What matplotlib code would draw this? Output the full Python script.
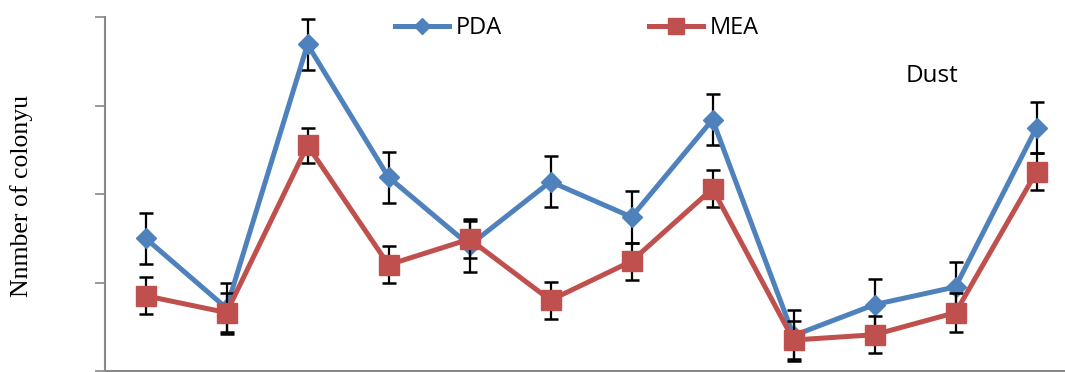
import matplotlib
matplotlib.use("Agg")
import matplotlib.pyplot as plt
import numpy as np

# samples along the x axis (no labels shown in the original)
samples = list(range(1, 13))

pda = [1.50, 0.71, 3.69, 2.19, 1.42, 2.14, 1.74, 2.84, 0.40, 0.75, 0.95, 2.75]
pda_err = [0.29, 0.29, 0.29, 0.29, 0.30, 0.29, 0.29, 0.29, 0.29, 0.29, 0.28, 0.29]

mea = [0.85, 0.66, 2.55, 1.20, 1.49, 0.80, 1.24, 2.06, 0.35, 0.41, 0.66, 2.25]
mea_err = [0.21, 0.22, 0.20, 0.21, 0.21, 0.21, 0.21, 0.21, 0.22, 0.21, 0.22, 0.21]

blue = "#4F81BD"
red = "#C0504D"

W, H = 1065, 372
fig = plt.figure(figsize=(W / 100, H / 100), dpi=100)
ax = fig.add_axes([105 / W, 1 / H, 81 * 12 / W, 354 / H])

x = np.arange(len(samples))

ax.errorbar(x, pda, yerr=pda_err, fmt="none", ecolor="black",
            elinewidth=1.6, capsize=5, capthick=1.8, zorder=2)
ax.plot(x, pda, color=blue, lw=3.6, marker="D", ms=10, label="PDA", zorder=3)
ax.errorbar(x, mea, yerr=mea_err, fmt="none", ecolor="black",
            elinewidth=1.6, capsize=5, capthick=1.8, zorder=4)
ax.plot(x, mea, color=red, lw=3.6, marker="s", ms=14, label="MEA", zorder=5)

ax.set_xlim(-0.5, len(samples) - 0.5)
ax.set_ylim(0, 4)
ax.set_yticks([0, 1, 2, 3, 4])
ax.set_yticklabels([])
ax.set_xticks([])
ax.tick_params(axis="y", direction="out", length=7, width=1.2, color="#888888")
for s in ["top", "right"]:
    ax.spines[s].set_visible(False)
for s in ["left", "bottom"]:
    ax.spines[s].set_color("#888888")
    ax.spines[s].set_linewidth(1.5)

fig.legend(loc="center", bbox_to_anchor=(577 / W, 1 - 28 / H), ncol=2,
           frameon=False, prop={"family": "Open Sans", "size": 17},
           handlelength=2.3, handletextpad=0.3, columnspacing=6.2,
           markerscale=0.85)

fig.text(932 / W, 1 - 76 / H, "Dust", ha="center", va="center",
         family="Open Sans", fontsize=17.5)
fig.text(22 / W, 1 - 196 / H, "Nnmber of colonyu", rotation=90,
         ha="center", va="center", family="Liberation Serif", fontsize=18.5)

fig.savefig("out.png", dpi=100)
